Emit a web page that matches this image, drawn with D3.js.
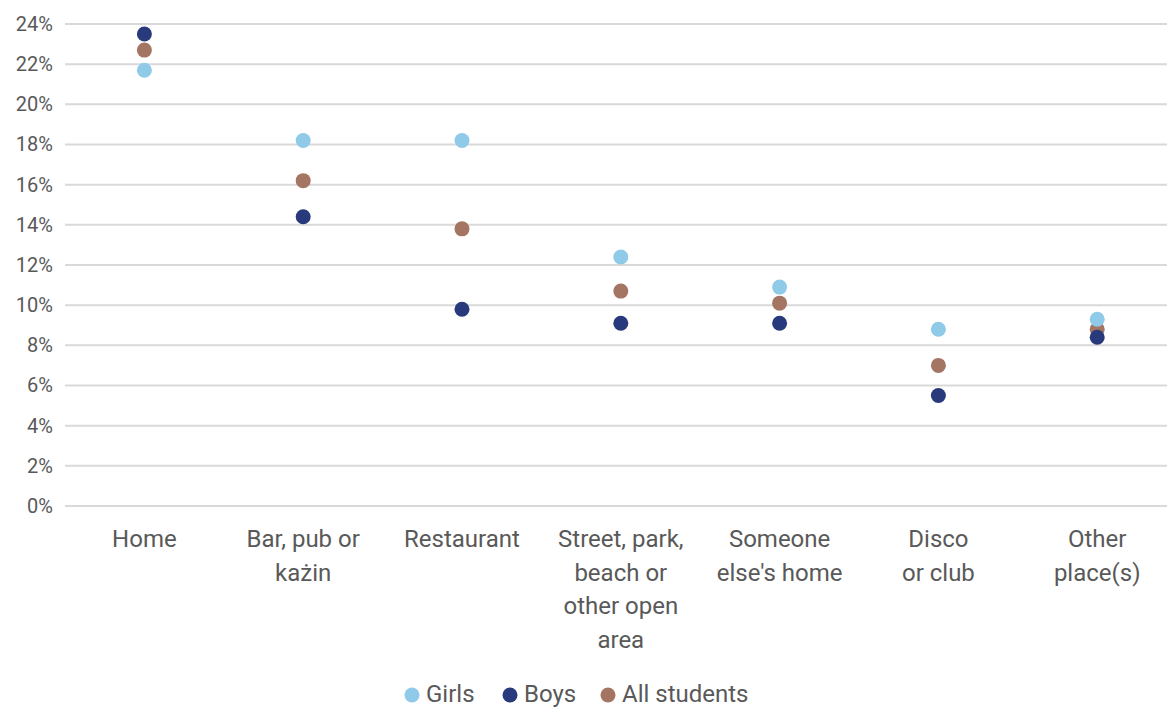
<!DOCTYPE html>
<html>
<head>
<meta charset="utf-8">
<script src="https://cdn.jsdelivr.net/npm/d3@7"></script>
<style>
  html, body { margin: 0; padding: 0; background: #fff; }
  svg { display: block; }
  text { font-family: Roboto, "Open Sans", sans-serif; fill: #595959; }
</style>
</head>
<body>
<svg id="chart" width="1167" height="708"></svg>
<script>
// Places where students last drank alcohol, share of each group
const categories = [
  ["Home"],
  ["Bar, pub or", "każin"],
  ["Restaurant"],
  ["Street, park,", "beach or", "other open", "area"],
  ["Someone", "else's home"],
  ["Disco", "or club"],
  ["Other", "place(s)"]
];
const girls = [21.7, 18.2, 18.2, 12.4, 10.9, 8.8, 9.3];
const boys = [23.5, 14.4, 9.8, 9.1, 9.1, 5.5, 8.4];
const allStudents = [22.7, 16.2, 13.8, 10.7, 10.1, 7.0, 8.8];
const yTicks = [0, 2, 4, 6, 8, 10, 12, 14, 16, 18, 20, 22, 24];

const seriesList = [
  { name: "Girls", values: girls, color: "#8fcbe8" },
  { name: "Boys", values: boys, color: "#283a7c" },
  { name: "All students", values: allStudents, color: "#a37562" }
];
// brown dots sit underneath the other two
const drawOrder = [seriesList[2], seriesList[0], seriesList[1]];

const svg = d3.select("#chart");
const W = 1167;
const plotLeft = 65, plotTop = 24, plotBottom = 506;

const x = d3.scaleBand()
  .domain(d3.range(categories.length))
  .range([plotLeft, plotLeft + 158.8 * categories.length]);
const y = d3.scaleLinear().domain([0, 24]).range([plotBottom, plotTop]);

// horizontal gridlines
svg.append("g").selectAll("line")
  .data(yTicks).join("line")
  .attr("x1", plotLeft).attr("x2", W)
  .attr("y1", d => y(d)).attr("y2", d => y(d))
  .attr("stroke", "#d9d9d9").attr("stroke-width", 2);

// y-axis labels
const yAxis = d3.axisLeft(y).tickValues(yTicks).tickFormat(d => d + "%").tickSize(0).tickPadding(0);
const gy = svg.append("g").attr("transform", `translate(${plotLeft - 12},0)`).call(yAxis);
gy.select(".domain").remove();
gy.selectAll("text")
  .attr("font-size", 20)
  .style("font-family", "Roboto, 'Open Sans', sans-serif")
  .attr("fill", "#595959");

// category labels
const cat = svg.append("g").selectAll("text")
  .data(categories).join("text")
  .attr("text-anchor", "middle")
  .attr("font-size", 24)
  .attr("transform", (d, i) => `translate(${x(i) + x.bandwidth() / 2},547)`);
cat.selectAll("tspan")
  .data(d => d).join("tspan")
  .attr("x", 0)
  .attr("y", (d, j) => j * 33.5)
  .text(d => d);

// dots
drawOrder.forEach(s => {
  svg.append("g").selectAll("circle")
    .data(s.values).join("circle")
    .attr("cx", (d, i) => x(i) + x.bandwidth() / 2)
    .attr("cy", d => y(d))
    .attr("r", 7.5)
    .attr("fill", s.color);
});

// legend
const legendX = [412, 510, 608];
const lg = svg.append("g").selectAll("g")
  .data(seriesList).join("g")
  .attr("transform", (d, i) => `translate(${legendX[i]},695)`);
lg.append("circle").attr("r", 7.5).attr("fill", d => d.color);
lg.append("text")
  .attr("x", 14).attr("y", 7)
  .attr("font-size", 24)
  .text(d => d.name);
</script>
</body>
</html>
